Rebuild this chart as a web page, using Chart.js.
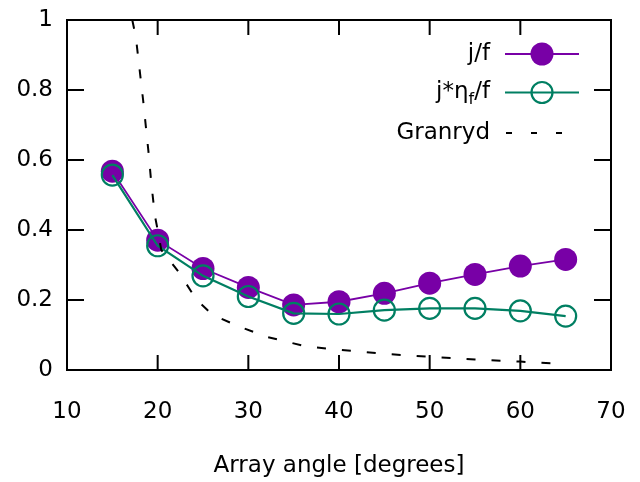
<!DOCTYPE html>
<html>
<head>
<meta charset="utf-8">
<script src="https://cdn.jsdelivr.net/npm/chart.js@4/dist/chart.umd.min.js"></script>
<style>
  html, body { margin: 0; padding: 0; background: #fff; }
  #wrap { width: 640px; height: 482px; }
</style>
</head>
<body>
<div id="wrap"><canvas id="myChart" width="640" height="482"></canvas></div>
<script>
// data
const angles = [15, 20, 25, 30, 35, 40, 45, 50, 55, 60, 65];
const jf = [0.568, 0.371, 0.290, 0.236, 0.186, 0.195, 0.219, 0.248, 0.273, 0.297, 0.316];
const jEtaf = [0.557, 0.355, 0.269, 0.210, 0.162, 0.160, 0.171, 0.176, 0.176, 0.169, 0.154];
const granrydX = [17.2, 17.6, 18.4, 19.0, 19.3, 19.7, 20.0, 20.4, 21.3, 22.4, 24.3, 26.1, 29.0, 32.0, 36.4, 40.0, 45.0, 50.0, 55.0, 60.0, 63.5];
const granrydY = [1.0, 0.95, 0.77, 0.62, 0.533, 0.44, 0.40, 0.343, 0.314, 0.277, 0.20, 0.157, 0.124, 0.095, 0.067, 0.058, 0.046, 0.038, 0.030, 0.024, 0.019];
const xTicks = [10, 20, 30, 40, 50, 60, 70];
const yTicks = [0, 0.2, 0.4, 0.6, 0.8, 1];

const purple = '#7800a6';
const green = '#007f62';
const fontFam = '"DejaVu Sans", sans-serif';
const fs = 23;

function pts(xs, ys) {
  return xs.map((x, i) => ({x: x, y: ys[i]}));
}

// gnuplot style box, inward ticks and legend
const gnuBox = {
  id: 'gnuBox',
  afterDraw(chart) {
    const ctx = chart.ctx;
    const a = chart.chartArea;
    const xs = chart.scales.x, ys = chart.scales.y;
    ctx.save();
    ctx.strokeStyle = '#000';
    ctx.lineWidth = 2;
    ctx.strokeRect(a.left, a.top, a.right - a.left, a.bottom - a.top);
    ctx.beginPath();
    xTicks.forEach(v => {
      const px = xs.getPixelForValue(v);
      ctx.moveTo(px, a.bottom); ctx.lineTo(px, a.bottom - 15);
      ctx.moveTo(px, a.top); ctx.lineTo(px, a.top + 15);
    });
    yTicks.forEach(v => {
      const py = ys.getPixelForValue(v);
      ctx.moveTo(a.left, py); ctx.lineTo(a.left + 17, py);
      ctx.moveTo(a.right, py); ctx.lineTo(a.right - 17, py);
    });
    ctx.stroke();

    // legend
    const tx = 490, l0 = 505, l1 = 579, mx = 542;
    ctx.font = fs + 'px ' + fontFam;
    ctx.fillStyle = '#000';
    ctx.textBaseline = 'middle';
    ctx.textAlign = 'right';

    let y = 54;
    ctx.fillText('j/f', tx, y);
    ctx.strokeStyle = purple; ctx.lineWidth = 1.8;
    ctx.beginPath(); ctx.moveTo(l0, y); ctx.lineTo(l1, y); ctx.stroke();
    ctx.fillStyle = purple;
    ctx.beginPath(); ctx.arc(mx, y, 11.5, 0, Math.PI * 2); ctx.fill();

    y = 92.5;
    ctx.fillStyle = '#000';
    ctx.textAlign = 'left';
    const p1 = 'j*η', p3 = '/f';
    ctx.font = fs + 'px ' + fontFam;
    const w1 = ctx.measureText(p1).width, w3 = ctx.measureText(p3).width;
    ctx.font = '16px ' + fontFam;
    const w2 = ctx.measureText('f').width;
    let sx = tx - w1 - w2 - w3;
    ctx.font = fs + 'px ' + fontFam;
    ctx.fillText(p1, sx, y);
    ctx.font = '16px ' + fontFam;
    ctx.fillText('f', sx + w1, y + 7);
    ctx.font = fs + 'px ' + fontFam;
    ctx.fillText(p3, sx + w1 + w2, y);
    ctx.strokeStyle = green; ctx.lineWidth = 2.2;
    ctx.beginPath(); ctx.moveTo(l0, y); ctx.lineTo(l1, y); ctx.stroke();
    ctx.beginPath(); ctx.arc(mx, y, 10.5, 0, Math.PI * 2); ctx.stroke();

    y = 133;
    ctx.textAlign = 'right';
    ctx.fillText('Granryd', tx, y);
    ctx.strokeStyle = '#000'; ctx.lineWidth = 2;
    ctx.setLineDash([6, 19]);
    ctx.beginPath(); ctx.moveTo(506, y); ctx.lineTo(563, y); ctx.stroke();
    ctx.restore();
  }
};

const ctx = document.getElementById('myChart').getContext('2d');
const myChart = new Chart(ctx, {
  type: 'scatter',
  data: {
    datasets: [{
      label: 'j/f',
      data: pts(angles, jf),
      showLine: true,
      borderColor: purple,
      borderWidth: 1.8,
      pointBackgroundColor: purple,
      pointBorderColor: purple,
      pointBorderWidth: 0,
      pointRadius: 11.5,
      order: 3
    }, {
      label: 'j*ηf/f',
      data: pts(angles, jEtaf),
      showLine: true,
      borderColor: green,
      borderWidth: 2.2,
      pointBackgroundColor: 'rgba(0,0,0,0)',
      pointBorderColor: green,
      pointBorderWidth: 2.2,
      pointRadius: 10.5,
      order: 2
    }, {
      label: 'Granryd',
      data: pts(granrydX, granrydY),
      showLine: true,
      borderColor: '#000',
      borderWidth: 2,
      borderDash: [9, 16],
      pointRadius: 0,
      order: 1
    }]
  },
  options: {
    responsive: false,
    animation: false,
    layout: { padding: { top: 20, right: 29, left: 0, bottom: 0 } },
    plugins: { legend: { display: false }, tooltip: { enabled: false } },
    scales: {
      x: {
        type: 'linear',
        min: 10, max: 70,
        afterBuildTicks: s => { s.ticks = xTicks.map(v => ({value: v})); },
        afterFit: s => { s.height = 112; s.paddingLeft = 0; s.paddingRight = 0; },
        grid: { display: false, drawTicks: false },
        border: { display: false },
        ticks: { color: '#000', padding: 28, font: { family: fontFam, size: fs }, maxRotation: 0 },
        title: {
          display: true,
          text: 'Array angle [degrees]',
          color: '#000',
          font: { family: fontFam, size: fs },
          padding: { top: 0, bottom: 2 }
        }
      },
      y: {
        type: 'linear',
        min: 0, max: 1,
        afterBuildTicks: s => { s.ticks = yTicks.map(v => ({value: v})); },
        afterFit: s => { s.width = 67; s.paddingTop = 0; s.paddingBottom = 0; },
        grid: { display: false, drawTicks: false },
        border: { display: false },
        ticks: { color: '#000', padding: 14, font: { family: fontFam, size: fs }, callback: v => String(v) }
      }
    }
  },
  plugins: [gnuBox]
});
</script>
</body>
</html>
